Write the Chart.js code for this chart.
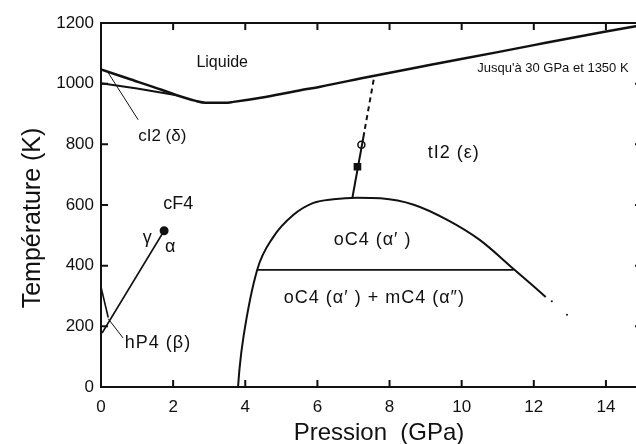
<!DOCTYPE html>
<html>
<head>
<meta charset="utf-8">
<script src="https://cdn.jsdelivr.net/npm/chart.js@4.4.1/dist/chart.umd.min.js"></script>
<style>
  html, body { margin: 0; padding: 0; background: #fff; overflow: hidden; }
  #wrap { width: 660px; height: 444px; }
</style>
</head>
<body>
<div id="wrap"><canvas id="phaseChart" width="660" height="444"></canvas></div>
<script>
// Phase diagram (pressure in GPa, temperature in K)
const pressureTicks = [0, 2, 4, 6, 8, 10, 12, 14];
const temperatureTicks = [0, 200, 400, 600, 800, 1000, 1200];

// liquidus (upper boundary of cI2 then tI2)
const meltP = [0, 0.75, 1.7, 2.1, 2.6, 2.9, 3.45, 3.67, 4.6, 5.53, 6.08, 7.44, 9, 11, 12, 14, 15];
const meltT = [1047, 1017, 979, 962, 944, 937, 937, 940, 957, 978, 990, 1023, 1059, 1104, 1127, 1172, 1193];

// lower boundary of cI2 (delta)
const deltaP = [0, 1.0, 2.1];
const deltaT = [1001, 984, 962];

// tI2 (epsilon) boundary: dashed upper part, solid lower part
const epsDashP = [7.56, 7.3];
const epsDashT = [1013, 840];
const epsSolidP = [7.3, 6.97];
const epsSolidT = [840, 624];
const openCircle = [7.22, 799];
const filledSquare = [7.11, 726];

// oC4 dome
const domeP = [3.8, 3.84, 3.95, 4.33, 4.78, 5.33, 5.89, 6.44, 7.1, 7.75, 8.67, 9.6, 10.5, 11.44, 12.33];
const domeT = [0, 60, 165, 386, 495, 567, 607, 619, 624, 622, 601, 551, 485, 389, 297];
const domeTailP = [12.5, 12.92];
const domeTailT = [283, 238];

// oC4 / oC4 + mC4 separation
const splitP = [4.33, 11.44];
const splitT = [386, 386];

// gamma / alpha line with critical point
const gammaP = [0.03, 1.75];
const gammaT = [178, 515];

// hP4 (beta) upper boundary
const betaP = [0, 0.2];
const betaT = [330, 229];

// label pointers
const deltaPtrP = [0.2, 1.03];
const deltaPtrT = [1036, 881];
const betaPtrP = [0.2, 0.61];
const betaPtrT = [225, 162];

const pts = (ps, ts) => ps.map((p, i) => ({ x: p, y: ts[i] }));

const labels = [
  { text: 'Liquide', p: 3.36, t: 1069, size: 16, gap: 0 },
  { text: 'cI2 (δ)', p: 1.7, t: 825, size: 17, gap: 0 },
  { text: 'cF4', p: 2.14, t: 604, size: 18, gap: 0 },
  { text: 'γ', p: 1.28, t: 492, size: 18, gap: 0 },
  { text: 'α', p: 1.92, t: 460, size: 18, gap: 0 },
  { text: 'hP4 (β)', p: 1.58, t: 145, size: 18, gap: 1 },
  { text: 'tI2 (ε)', p: 9.78, t: 772, size: 18, gap: 1 },
  { text: 'oC4 (α′ )', p: 7.53, t: 485, size: 18, gap: 1 },
  { text: 'oC4 (α′ ) + mC4 (α″)', p: 7.58, t: 294, size: 18, gap: 1 }
];

const FONT = '"Liberation Sans", Arial, sans-serif';
const INK = '#111';

const line = (data, extra) => Object.assign({
  data: data,
  showLine: true,
  borderColor: INK,
  borderWidth: 2,
  pointRadius: 0,
  fill: false
}, extra || {});

const framePlugin = {
  id: 'frame',
  afterDatasetsDraw(chart) {
    const { ctx, chartArea: a, scales: { x, y } } = chart;
    ctx.save();
    ctx.strokeStyle = INK;
    ctx.lineWidth = 2;
    ctx.strokeRect(a.left, a.top, a.right - a.left, a.bottom - a.top);
    ctx.beginPath();
    x.ticks.forEach(t => {
      const px = x.getPixelForValue(t.value);
      ctx.moveTo(px, a.bottom); ctx.lineTo(px, a.bottom - 7);
      ctx.moveTo(px, a.top); ctx.lineTo(px, a.top + 7);
    });
    y.ticks.forEach(t => {
      const py = y.getPixelForValue(t.value);
      ctx.moveTo(a.left, py); ctx.lineTo(a.left + 7, py);
      ctx.moveTo(a.right, py); ctx.lineTo(a.right - 7, py);
    });
    ctx.stroke();

    ctx.fillStyle = INK;
    ctx.textAlign = 'center';
    ctx.textBaseline = 'middle';
    labels.forEach(l => {
      ctx.font = l.size + 'px ' + FONT;
      ctx.letterSpacing = l.gap + 'px';
      ctx.fillText(l.text, x.getPixelForValue(l.p), y.getPixelForValue(l.t));
    });
    ctx.letterSpacing = '0px';
    ctx.font = '13px ' + FONT;
    ctx.fillText("Jusqu'à 30 GPa et 1350 K", x.getPixelForValue(12.53), y.getPixelForValue(1050), 153);

    // axis titles
    ctx.font = '24px ' + FONT;
    ctx.fillText('Pression  (GPa)', 379, 433);
    ctx.translate(33, 218);
    ctx.rotate(-Math.PI / 2);
    ctx.font = '25px ' + FONT;
    ctx.fillText('Température (K)', 0, 0);
    ctx.restore();
  }
};

new Chart(document.getElementById('phaseChart'), {
  type: 'scatter',
  data: {
    datasets: [
      line(pts(meltP, meltT), { borderWidth: 2.5, cubicInterpolationMode: 'monotone' }),
      line(pts(deltaP, deltaT)),
      line(pts(deltaPtrP, deltaPtrT), { borderWidth: 1 }),
      line(pts(epsDashP, epsDashT), { borderDash: [5, 4] }),
      line(pts(epsSolidP, epsSolidT)),
      line([{ x: openCircle[0], y: openCircle[1] }], {
        showLine: false, pointRadius: 3.5, pointStyle: 'circle',
        pointBackgroundColor: '#fff', pointBorderColor: INK, pointBorderWidth: 1.5
      }),
      line([{ x: filledSquare[0], y: filledSquare[1] }], {
        showLine: false, pointRadius: 4, pointStyle: 'rect',
        pointBackgroundColor: INK, pointBorderColor: INK
      }),
      line(pts(domeP, domeT), { cubicInterpolationMode: 'monotone' }),
      line(pts(domeTailP, domeTailT), {
        showLine: false, pointRadius: 1, pointBackgroundColor: INK, pointBorderWidth: 0
      }),
      line(pts(splitP, splitT), { borderWidth: 1.8 }),
      line(pts(gammaP, gammaT), { borderWidth: 1.6 }),
      line([{ x: gammaP[1], y: gammaT[1] }], {
        showLine: false, pointRadius: 3.5, pointBackgroundColor: INK, pointBorderColor: INK
      }),
      line(pts(betaP, betaT), { borderWidth: 1.6 }),
      line(pts(betaPtrP, betaPtrT), { borderWidth: 1 })
    ]
  },
  options: {
    responsive: false,
    animation: false,
    events: [],
    layout: { padding: { top: 23, right: 18, left: 0, bottom: 0 } },
    plugins: {
      legend: { display: false },
      tooltip: { enabled: false }
    },
    scales: {
      x: {
        type: 'linear',
        min: 0,
        max: 15,
        afterBuildTicks: s => { s.ticks = pressureTicks.map(v => ({ value: v })); },
        afterFit: s => { s.height = 57; },
        grid: { display: false, drawTicks: false },
        border: { display: false },
        ticks: { color: INK, padding: 10, font: { family: FONT, size: 17 }, callback: v => String(v) }
      },
      y: {
        type: 'linear',
        min: 0,
        max: 1200,
        afterBuildTicks: s => { s.ticks = temperatureTicks.map(v => ({ value: v })); },
        afterFit: s => { s.width = 101; },
        grid: { display: false, drawTicks: false },
        border: { display: false },
        ticks: { color: INK, padding: 7, font: { family: FONT, size: 17 }, callback: v => String(v) }
      }
    }
  },
  plugins: [framePlugin]
});
</script>
</body>
</html>
